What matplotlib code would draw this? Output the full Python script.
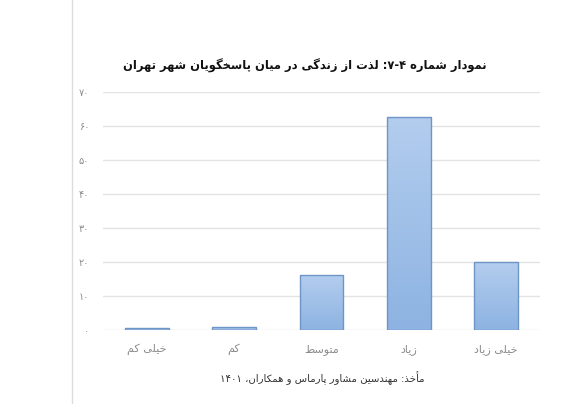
import matplotlib
matplotlib.use("Agg")
import matplotlib.pyplot as plt
import numpy as np
from matplotlib.lines import Line2D

# data (logical Persian text)
categories = ["خیلی کم", "کم", "متوسط", "زیاد", "خیلی زیاد"]
values = [0.5, 0.8, 16.1, 62.6, 19.8]
y_ticks = [0, 10, 20, 30, 40, 50, 60, 70]
title = "نمودار شماره ۷-۴: لذت از زندگی در میان پاسخگویان شهر تهران"
source = "مأخذ: مهندسین مشاور پارماس و همکاران، ۱۴۰۱"

# isolated, final, initial, medial (None -> right-joining only)
FORMS = {
    "ا": (0xFE8D, 0xFE8E, None, None),
    "أ": (0xFE83, 0xFE84, None, None),
    "ب": (0xFE8F, 0xFE90, 0xFE91, 0xFE92),
    "ت": (0xFE95, 0xFE96, 0xFE97, 0xFE98),
    "خ": (0xFEA5, 0xFEA6, 0xFEA7, 0xFEA8),
    "د": (0xFEA9, 0xFEAA, None, None),
    "ذ": (0xFEAB, 0xFEAC, None, None),
    "ر": (0xFEAD, 0xFEAE, None, None),
    "ز": (0xFEAF, 0xFEB0, None, None),
    "س": (0xFEB1, 0xFEB2, 0xFEB3, 0xFEB4),
    "ش": (0xFEB5, 0xFEB6, 0xFEB7, 0xFEB8),
    "ط": (0xFEC1, 0xFEC2, 0xFEC3, 0xFEC4),
    "ف": (0xFED1, 0xFED2, 0xFED3, 0xFED4),
    "ل": (0xFEDD, 0xFEDE, 0xFEDF, 0xFEE0),
    "م": (0xFEE1, 0xFEE2, 0xFEE3, 0xFEE4),
    "ن": (0xFEE5, 0xFEE6, 0xFEE7, 0xFEE8),
    "ه": (0xFEE9, 0xFEEA, 0xFEEB, 0xFEEC),
    "و": (0xFEED, 0xFEEE, None, None),
    "پ": (0xFB56, 0xFB57, 0xFB58, 0xFB59),
    "ک": (0xFB8E, 0xFB8F, 0xFB90, 0xFB91),
    "گ": (0xFB92, 0xFB93, 0xFB94, 0xFB95),
    "ی": (0xFBFC, 0xFBFD, 0xFBFE, 0xFBFF),
}
DIGITS = set("۰۱۲۳۴۵۶۷۸۹0123456789")


def fa(text):
    # contextual shaping
    out = []
    n = len(text)
    for i, ch in enumerate(text):
        if ch not in FORMS:
            out.append(ch)
            continue
        f = FORMS[ch]
        prev = text[i - 1] if i > 0 else ""
        nxt = text[i + 1] if i < n - 1 else ""
        join_prev = prev in FORMS and FORMS[prev][2] is not None
        join_next = nxt in FORMS and f[2] is not None
        if join_prev and join_next:
            code = f[3]
        elif join_prev:
            code = f[1]
        elif join_next:
            code = f[2]
        else:
            code = f[0]
        out.append(chr(code))
    s = "".join(out)
    # simple bidi: reverse, keep digit runs left-to-right
    runs = []
    i = 0
    while i < len(s):
        if s[i] in DIGITS:
            j = i
            while j < len(s) and (s[j] in DIGITS or (s[j] == "-" and j + 1 < len(s) and s[j + 1] in DIGITS)):
                j += 1
            runs.append(s[i:j])
            i = j
        else:
            runs.append(s[i])
            i += 1
    return "".join(reversed(runs))


def fa_num(v):
    return "".join("۰۱۲۳۴۵۶۷۸۹"[int(c)] for c in str(v))


plt.rcParams["font.family"] = ["DejaVu Sans"]

fig = plt.figure(figsize=(5.86, 4.04), dpi=100)
ax = fig.add_axes([0.176, 0.184, 0.745, 0.588])

x = np.arange(len(categories))
bars = ax.bar(x, values, width=0.5, color="none", edgecolor="#6f94c6", linewidth=1.0, zorder=3)

# vertical gradient inside each bar
grad = np.linspace(0, 1, 256).reshape(-1, 1)
cmap = matplotlib.colors.LinearSegmentedColormap.from_list("g", ["#8db3e2", "#b3cdee"])
for b in bars:
    x0, y0 = b.get_x(), b.get_y()
    w, h = b.get_width(), b.get_height()
    im = ax.imshow(grad, cmap=cmap, extent=[x0, x0 + w, y0, y0 + h], origin="lower",
                   aspect="auto", zorder=2)
    im.set_clip_path(b)

ax.set_xlim(-0.5, len(categories) - 0.5)
ax.set_ylim(0, 70)
ax.set_yticks(y_ticks)
ax.set_yticklabels([fa_num(v) for v in y_ticks], color="#8c8c8c", fontsize=7)
ax.set_xticks(x)
ax.set_xticklabels([fa(c) for c in categories], color="#8c8c8c", fontsize=8)
ax.tick_params(length=0, axis="y", pad=10)
ax.tick_params(length=0, axis="x", pad=10)
ax.grid(axis="y", color="#e3e3e3", linewidth=1.0, zorder=0)
for s in ax.spines.values():
    s.set_visible(False)
ax.set_facecolor("white")

fig.text(0.521, 0.838, fa(title), ha="center", va="center", fontsize=8.3, fontweight="bold", color="#111111")
fig.text(0.55, 0.065, fa(source), ha="center", va="center", fontsize=7.3, color="#333333")

fig.add_artist(Line2D([0.123, 0.123], [0.0, 1.0], color="#dcdcdc", linewidth=1.0, transform=fig.transFigure))

fig.savefig("out.png", dpi=100, facecolor="white")
